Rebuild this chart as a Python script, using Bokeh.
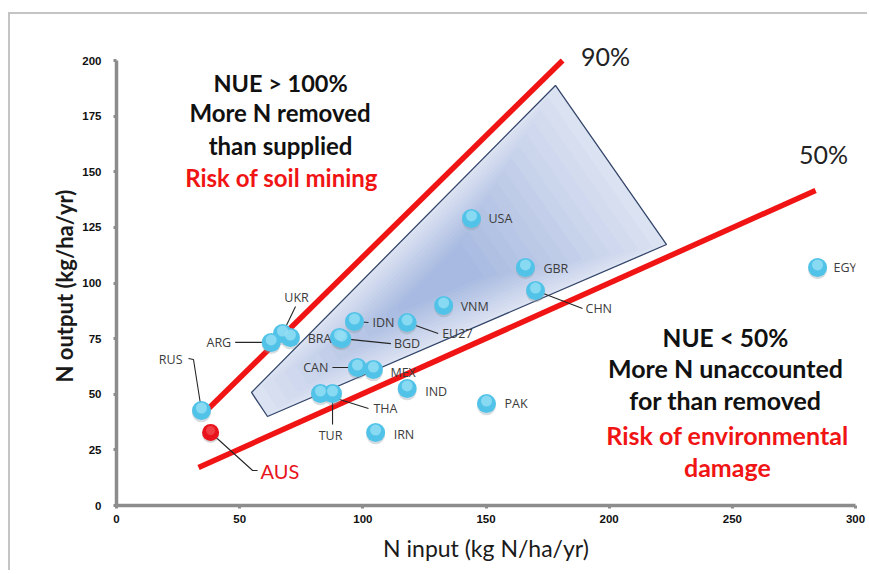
from bokeh.plotting import figure
from bokeh.models import Range1d, ColumnDataSource, Label, FixedTicker, Title
from bokeh.embed import file_html
from bokeh.resources import INLINE
from bokeh.core.properties import value

# ---------------- data ----------------
countries = ["RUS", "ARG", "UKR", "", "IDN", "BRA", "BGD", "EU27", "CAN", "MEX",
             "THA", "TUR", "IND", "IRN", "USA", "GBR", "CHN", "VNM", "PAK", "EGY"]
n_input = [34.5, 62.8, 67.4, 70.6, 96.6, 90.5, 91.5, 118.0, 97.8, 104.3,
           82.8, 87.7, 118.0, 105.2, 144.1, 166.0, 170.1, 132.8, 150.2, 284.6]
n_output = [42.7, 73.3, 77.3, 75.5, 82.7, 75.5, 75.0, 82.2, 62.0, 61.1,
            50.3, 50.3, 52.6, 32.8, 129.0, 107.0, 96.6, 89.9, 45.8, 107.0]
aus_label = ["AUS"]
aus_input = [38.2]
aus_output = [32.8]

# NUE reference lines and the "target" zone (data coordinates)
line90_x = [37.4, 181.1]
line90_y = [43.6, 200.0]
line50_x = [33.3, 283.8]
line50_y = [17.1, 141.6]
zone_x = [54.8, 178.2, 223.3, 61.3]
zone_y = [50.8, 188.8, 117.3, 40.0]

x_ticks = [0, 50, 100, 150, 200, 250, 300]
y_ticks = [0, 25, 50, 75, 100, 125, 150, 175, 200]

# ---------------- layout ----------------
W, H = 859, 558
L, T = 106, 4
X_RIGHT = 845                          # canvas x of 300
AX_TOP, AX_BOTTOM = 46, 491            # canvas y of 200 and 0
R = W - X_RIGHT
B = H - AX_BOTTOM
SX = (X_RIGHT - L) / 300.0             # px per x unit
SY = (AX_BOTTOM - AX_TOP) / 200.0      # px per y unit
y_end = 200 + (AX_TOP - T) / SY

p = figure(width=W, height=H, output_backend="svg", toolbar_location=None,
           x_range=Range1d(0, 300), y_range=Range1d(0, y_end),
           min_border_left=L, min_border_right=R, min_border_top=T, min_border_bottom=B)
p.styles = {"margin-left": "10px", "margin-top": "14px",
            "box-shadow": "-2px -2px 0px 0px #c4c4c4"}
p.outline_line_color = None
p.grid.visible = False
p.background_fill_color = "white"
p.border_fill_color = "white"

for ax, ticks in ((p.xaxis, x_ticks), (p.yaxis, y_ticks)):
    ax.ticker = FixedTicker(ticks=ticks)
    ax.axis_line_color = "#8c8c8c"
    ax.axis_line_width = 3.5
    ax.major_tick_line_color = "#8c8c8c"
    ax.major_tick_line_width = 3
    ax.major_tick_in = 0
    ax.major_tick_out = 3
    ax.minor_tick_line_color = None
    ax.major_label_text_font = "Liberation Sans"
    ax.major_label_text_font_style = "bold"
    ax.major_label_text_font_size = "11.5px"
    ax.major_label_text_color = "#111111"
p.yaxis.bounds = (0, 200)

p.xaxis.major_label_standoff = 6
p.yaxis.major_label_standoff = 12
p.xaxis.axis_label = "N input (kg N/ha/yr)"
p.xaxis.axis_label_text_font = "Lato"
p.xaxis.axis_label_text_font_style = "normal"
p.xaxis.axis_label_text_font_size = "23px"
p.xaxis.axis_label_text_color = "#1a1a1a"
p.xaxis.axis_label_standoff = 8

p.add_layout(Title(text="N output (kg/ha/yr)", align="left", offset=123, standoff=4,
                   text_font="Lato", text_font_style="bold", text_font_size="22px",
                   text_color="#1a1a1a"), "left")

# ---------------- target zone with a soft radial shading ----------------
cx = sum(zone_x) / len(zone_x)
cy = sum(zone_y) / len(zone_y)
n_steps = 14
c0 = (0xdb, 0xe2, 0xf2)
c1 = (0xa8, 0xba, 0xe1)
for i in range(n_steps):
    s = 1.0 - i * (0.85 / n_steps)
    t = i / (n_steps - 1)
    col = "#%02x%02x%02x" % tuple(int(a + (b - a) * t) for a, b in zip(c0, c1))
    xs = [cx + (x - cx) * s for x in zone_x]
    ys = [cy + (y - cy) * s for y in zone_y]
    p.patch(xs, ys, fill_color=col, line_color=None)
p.patch(zone_x, zone_y, fill_color=None, line_color="#34466a", line_width=1.3)

# ---------------- NUE lines ----------------
p.line(line90_x, line90_y, line_color="#f01414", line_width=5.5)
p.line(line50_x, line50_y, line_color="#f01414", line_width=5.5)

# ---------------- country labels & leader lines ----------------
# per label: (dx px, dy px up, align, leader polyline in px offsets or None)
label_layout = {
    "RUS": (-19, 51, "right", [(-13, 52), (-8, 51), (0, 0)]),
    "ARG": (-40, 0, "right", [(-36, 0), (0, 0)]),
    "UKR": (14, 36, "center", [(13, 27), (0, 0)]),
    "IDN": (18, -1, "left", [(14, -1), (0, 0)]),
    "BRA": (-8, -1, "right", None),
    "BGD": (52, -5, "left", [(49, -5), (0, 0)]),
    "EU27": (35, -11, "left", [(31, -11), (0, 0)]),
    "CAN": (-29, 0, "right", [(-25, 0), (0, 0)]),
    "MEX": (17, -3, "left", None),
    "THA": (53, -15, "left", [(48, -15), (0, 0)]),
    "TUR": (-2, -42, "center", [(0, -31), (0, 0)]),
    "IND": (18, -3, "left", None),
    "IRN": (18, -2, "left", None),
    "USA": (17, 0, "left", None),
    "GBR": (18, -1, "left", None),
    "CHN": (50, -18, "left", [(47, -18), (0, 0)]),
    "VNM": (17, -1, "left", None),
    "PAK": (18, 0, "left", None),
    "EGY": (16, 0, "left", None),
}

lead_xs, lead_ys = [], []
tx, ty, tt, ta = [], [], [], []
for name, x, y in zip(countries, n_input, n_output):
    if name not in label_layout:
        continue
    dx, dy, al, lead = label_layout[name]
    tx.append(x + dx / SX)
    ty.append(y + dy / SY)
    tt.append(name)
    ta.append(al)
    if lead:
        lead_xs.append([x + a / SX for a, b in lead])
        lead_ys.append([y + b / SY for a, b in lead])
# AUS leader
lead_xs.append([aus_input[0] + 47 / SX, aus_input[0] + 42 / SX, aus_input[0]])
lead_ys.append([aus_output[0] - 38 / SY, aus_output[0] - 38 / SY, aus_output[0]])

p.multi_line(lead_xs, lead_ys, line_color="#262626", line_width=1.1)

# ---------------- points ----------------
pts = ColumnDataSource(dict(x=n_input, y=n_output,
                            ysh=[v - 2.2 / SY for v in n_output],
                            yhl=[v + 2.5 / SY for v in n_output]))
p.scatter("x", "ysh", source=pts, size=19, fill_color="#8a9aa3", fill_alpha=0.35, line_color=None)
p.scatter("x", "y", source=pts, size=19, fill_color="#52c3e8", line_color=None)
p.scatter("x", "yhl", source=pts, size=11, fill_color="#96def4", fill_alpha=0.8, line_color=None)

aus = ColumnDataSource(dict(x=aus_input, y=aus_output,
                            ysh=[v - 2 / SY for v in aus_output],
                            yhl=[v + 2 / SY for v in aus_output]))
p.scatter("x", "ysh", source=aus, size=17, fill_color="#8a8a8a", fill_alpha=0.35, line_color=None)
p.scatter("x", "y", source=aus, size=17, fill_color="#e8131b", line_color=None)
p.scatter("x", "yhl", source=aus, size=9, fill_color="#f04b50", fill_alpha=0.8, line_color=None)

lab = ColumnDataSource(dict(x=tx, y=ty, t=tt, a=ta))
p.text("x", "y", text="t", source=lab, text_align="a", text_baseline="middle",
       text_font=value("Open Sans"), text_font_size="12.5px", text_color="#3c3c3c")

p.add_layout(Label(x=aus_input[0] + 50 / SX, y=aus_output[0] - 38 / SY, text=aus_label[0],
                   text_font="Lato", text_font_size="20px", text_color="#e8131b",
                   text_baseline="middle", text_align="left"))

# ---------------- annotations ----------------
def note(x, y, text, color="#111111", size="24px", style="bold", align="center"):
    p.add_layout(Label(x=x, y=y, text=text, text_font="Lato", text_font_size=size,
                       text_font_style=style, text_color=color,
                       text_align=align, text_baseline="middle"))

note(66.6, 190.1, "NUE > 100%", size="23.5px")
note(66.4, 176.6, "More N removed")
note(66.6, 161.8, "than supplied")
note(67.0, 147.4, "Risk of soil mining", color="#f01414")
note(247.2, 75.5, "NUE < 50%", size="24.5px")
note(247.2, 61.6, "More N unaccounted", size="25px")
note(247.2, 47.2, "for than removed", size="25px")
note(248.0, 31.9, "Risk of environmental", color="#f01414", size="25px")
note(248.0, 17.5, "damage", color="#f01414", size="25px")
note(198.5, 202.2, "90%", color="#222222", size="25px", style="normal")
note(287.0, 158.2, "50%", color="#222222", size="25px", style="normal")

open("out.html", "w").write(file_html(p, INLINE))
